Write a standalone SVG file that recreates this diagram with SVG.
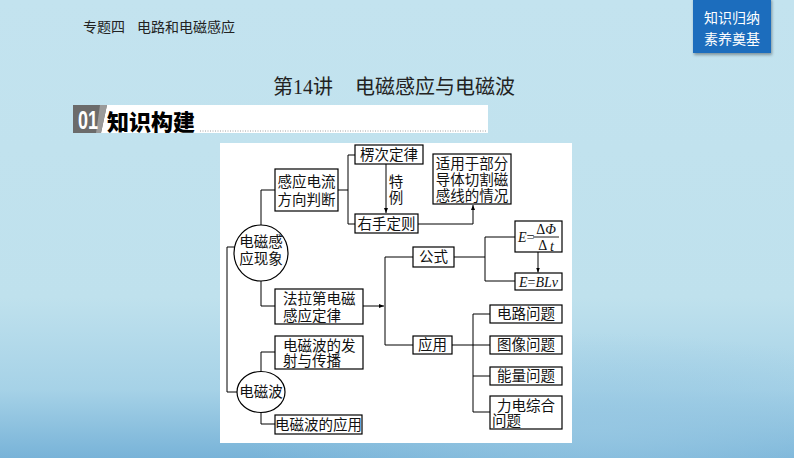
<svg xmlns="http://www.w3.org/2000/svg" width="794" height="458" viewBox="0 0 794 458">
<defs>
<linearGradient id="bg" x1="0" y1="0" x2="0" y2="1">
<stop offset="0" stop-color="#c3e3ef"/>
<stop offset="0.65" stop-color="#bfe1ed"/>
<stop offset="0.85" stop-color="#a6d2e7"/>
<stop offset="1" stop-color="#78b3d8"/>
</linearGradient>
<radialGradient id="glow" cx="0.75" cy="0.85" r="0.45">
<stop offset="0" stop-color="#98c8e3" stop-opacity="0.8"/>
<stop offset="1" stop-color="#98c8e3" stop-opacity="0"/>
</radialGradient>
<marker id="arr" viewBox="0 0 10 10" refX="10" refY="5" markerWidth="5" markerHeight="5" orient="auto" markerUnits="userSpaceOnUse">
<path d="M0,1 L10,5 L0,9 Z" fill="#000"/>
</marker>
<filter id="sh" x="-10%" y="-10%" width="130%" height="140%">
<feDropShadow dx="1" dy="2" stdDeviation="1.5" flood-color="#000" flood-opacity="0.35"/>
</filter>
</defs>
<style>
.box{fill:#fff;stroke:#000;stroke-width:1.2}
.ell{fill:#fff;stroke:#000;stroke-width:1.2}
.ln{fill:none;stroke:#000;stroke-width:1}
.t{font-family:"Liberation Serif","Noto Sans CJK SC",serif;font-size:14.5px;fill:#111;dominant-baseline:central}
.c{text-anchor:middle}
.m{font-family:"Liberation Serif","DejaVu Serif",serif;font-size:14px;fill:#111;dominant-baseline:central}
.i{font-style:italic}
.hd{font-family:"Noto Sans CJK SC",sans-serif;font-size:14px;fill:#222;dominant-baseline:central}
.bd{font-family:"Noto Sans CJK SC",sans-serif;font-size:14px;fill:#fff;text-anchor:middle;dominant-baseline:central}
.tt{font-family:"Liberation Serif","Noto Sans CJK SC",serif;font-size:20px;fill:#222;dominant-baseline:central}
</style>
<rect x="0" y="0" width="794" height="458" fill="url(#bg)"/>
<rect x="0" y="250" width="794" height="208" fill="url(#glow)"/>

<g id="header">
<text class="hd" x="83" y="26">专题四</text>
<text class="hd" x="137" y="26">电路和电磁感应</text>
</g>
<g id="badge">
<rect x="693" y="-2" width="78" height="55" fill="#1e6dbd" filter="url(#sh)"/>
<text class="bd" x="732" y="17">知识归纳</text>
<text class="bd" x="732" y="38">素养奠基</text>
</g>
<g id="title">
<text class="tt" x="273" y="87">第14讲</text>
<text class="tt" x="355" y="87">电磁感应与电磁波</text>
</g>
<g id="banner">
<polygon points="100,105 488,105 488,133 96,133" fill="#fff"/>
<polygon points="73,105 107,105 101,133 73,133" fill="#6b6b6b"/>
<polygon points="100,105 107,105 101,133 96,133" fill="#9a9a9a"/>
<text x="78" y="120" font-family="'Liberation Sans',sans-serif" font-weight="bold" font-size="25" fill="#fff" dominant-baseline="central" textLength="20" lengthAdjust="spacingAndGlyphs">01</text>
<text x="107" y="120" font-family="'Noto Sans CJK SC',sans-serif" font-weight="900" font-size="22" fill="#000" dominant-baseline="central">知识构建</text>
<line x1="200" y1="131" x2="486" y2="131" stroke="#888" stroke-width="0.8" stroke-dasharray="1,1.5"/>
</g>

<rect id="panel" x="220" y="143" width="352" height="300" fill="#fff"/>

<g id="connectors">
<path class="ln" d="M261,225 V190 H275"/>
<path class="ln" d="M338,190 H348 M348,155 V224 M348,155 H355 M348,224 H355"/>
<path class="ln" d="M386,164 V213" marker-end="url(#arr)"/>
<path class="ln" d="M418,224 H473 V205" marker-end="url(#arr)"/>
<path class="ln" d="M261,281 V306 H275"/>
<path class="ln" d="M363,306 H384" marker-end="url(#arr)"/>
<path class="ln" d="M385,257 V345 M385,257 H413 M385,345 H413"/>
<path class="ln" d="M454,257 H485 M485,237 V281 M485,237 H515 M485,281 H515"/>
<path class="ln" d="M538,252 V272.5" marker-end="url(#arr)"/>
<path class="ln" d="M452,345 H473 M473,314 V412 M473,314 H490 M473,345 H490 M473,376 H490 M473,412 H490"/>
<path class="ln" d="M234,247 H227 V392 H237"/>
<path class="ln" d="M261,372 V352 H275"/>
<path class="ln" d="M261,413 V424 H275"/>
</g>

<g id="n_emi">
<ellipse class="ell" cx="261" cy="253" rx="27" ry="28"/>
<text class="t c" x="261" y="242" font-size="15">电磁感</text>
<text class="t c" x="261" y="259" font-size="15">应现象</text>
</g>
<g id="n_dir">
<rect class="box" x="275" y="169" width="63" height="42"/>
<text class="t c" x="306.5" y="182">感应电流</text>
<text class="t c" x="306.5" y="200">方向判断</text>
</g>
<g id="n_lenz">
<rect class="box" x="355" y="145" width="68" height="19"/>
<text class="t c" x="389" y="155">楞次定律</text>
</g>
<g id="n_special">
<text class="t c" x="396" y="182">特</text>
<text class="t c" x="396" y="198">例</text>
</g>
<g id="n_right">
<rect class="box" x="355" y="214" width="63" height="19"/>
<text class="t c" x="386.5" y="224">右手定则</text>
</g>
<g id="n_apply">
<rect class="box" x="433" y="154" width="78" height="50"/>
<text class="t c" x="472" y="163.5">适用于部分</text>
<text class="t c" x="472" y="179.5">导体切割磁</text>
<text class="t c" x="472" y="195.5">感线的情况</text>
</g>
<g id="n_faraday">
<rect class="box" x="275" y="289" width="88" height="35"/>
<text class="t" x="283" y="299">法拉第电磁</text>
<text class="t" x="283" y="315.5">感应定律</text>
</g>
<g id="n_formula">
<rect class="box" x="413" y="247" width="41" height="20"/>
<text class="t c" x="433.5" y="257">公式</text>
</g>
<g id="n_use">
<rect class="box" x="413" y="336" width="39" height="18"/>
<text class="t c" x="432.5" y="345">应用</text>
</g>
<g id="n_eq1">
<rect class="box" x="515" y="221" width="47" height="31"/>
<text class="m i" x="518" y="237.5">E</text>
<text class="m" x="526.5" y="237.5">=</text>
<line x1="533" y1="237" x2="559" y2="237" stroke="#000" stroke-width="0.9"/>
<text class="m c" x="546" y="229">Δ<tspan font-style="italic">Φ</tspan></text>
<text class="m c" x="546" y="245.5">Δ <tspan font-style="italic">t</tspan></text>
</g>
<g id="n_eq2">
<rect class="box" x="515" y="273" width="47" height="17"/>
<text class="m c" x="538.5" y="282"><tspan font-style="italic">E</tspan>=<tspan font-style="italic">BLv</tspan></text>
</g>
<g id="n_circuit">
<rect class="box" x="490" y="305" width="72" height="18"/>
<text class="t c" x="526" y="314">电路问题</text>
</g>
<g id="n_graph">
<rect class="box" x="490" y="336" width="72" height="18"/>
<text class="t c" x="526" y="345">图像问题</text>
</g>
<g id="n_energy">
<rect class="box" x="490" y="367" width="72" height="18"/>
<text class="t c" x="526" y="376">能量问题</text>
</g>
<g id="n_force">
<rect class="box" x="490" y="396" width="72" height="33"/>
<text class="t" x="497" y="406">力电综合</text>
<text class="t" x="492" y="421">问题</text>
</g>
<g id="n_wave">
<ellipse class="ell" cx="261" cy="392" rx="24" ry="20.5"/>
<text class="t c" x="261" y="392" font-size="15">电磁波</text>
</g>
<g id="n_emit">
<rect class="box" x="275" y="336" width="88" height="33"/>
<text class="t" x="283" y="346">电磁波的发</text>
<text class="t" x="283" y="361">射与传播</text>
</g>
<g id="n_waveuse">
<rect class="box" x="275" y="415" width="87" height="19"/>
<text class="t c" x="318.5" y="424.5" font-size="14">电磁波的应用</text>
</g>
</svg>
